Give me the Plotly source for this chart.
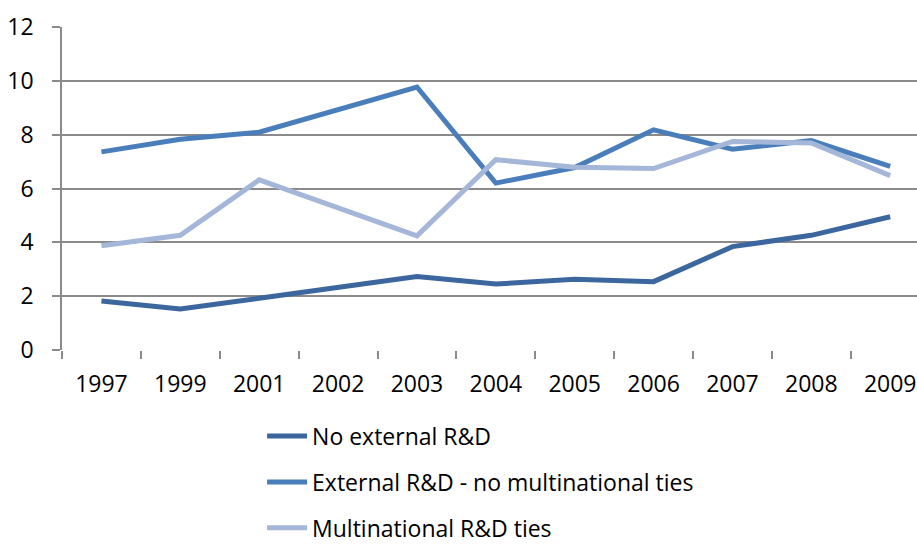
import plotly.graph_objects as go

# Survey years shown as evenly spaced categories
years = ["1997", "1999", "2001", "2002", "2003", "2004", "2005", "2006", "2007", "2008", "2009"]

no_external = [1.82, 1.52, 1.92, 2.32, 2.73, 2.45, 2.63, 2.54, 3.84, 4.26, 4.95]
external_no_mnc = [7.36, 7.83, 8.09, 8.93, 9.77, 6.20, 6.78, 8.18, 7.46, 7.78, 6.82]
multinational = [3.87, 4.26, 6.32, 5.28, 4.24, 7.07, 6.79, 6.74, 7.75, 7.69, 6.48]

series_names = ["No external R&D", "External R&D - no multinational ties", "Multinational R&D ties"]
series_colors = ["#3B679E", "#4A7EBB", "#A5B7D8"]
y_ticks = [0, 2, 4, 6, 8, 10, 12]

FONT = "Open Sans, Liberation Sans, sans-serif"
GRID = "#8A8A8A"
SIZE = 23

fig = go.Figure()
for i, (name, vals, col) in enumerate(zip(series_names, [no_external, external_no_mnc, multinational], series_colors)):
    fig.add_trace(go.Scatter(
        x=years, y=vals, name=name, mode="lines",
        line=dict(color=col, width=5, shape="linear"),
        legendgroup=f"g{i}",
    ))

fig.update_layout(
    width=917, height=548,
    margin=dict(l=62, r=0, t=27, b=198, autoexpand=False),
    paper_bgcolor="white", plot_bgcolor="white",
    font=dict(family=FONT, size=SIZE, color="#000000"),
    showlegend=True,
    legend=dict(
        orientation="v", x=0.234, xanchor="left", y=-0.2, yanchor="top",
        font=dict(family=FONT, size=SIZE, color="#000000"),
        tracegroupgap=13, bgcolor="rgba(0,0,0,0)", itemwidth=40,
    ),
    xaxis=dict(
        type="category", categoryorder="array", categoryarray=years,
        range=[-0.5, 10.34], automargin=False,
        showgrid=False, showline=False, zeroline=False,
        ticks="outside", tickson="boundaries", ticklen=8, tickwidth=1.5, tickcolor=GRID,
        ticklabelstandoff=18,
        tickfont=dict(family=FONT, size=SIZE, color="#000000"),
    ),
    yaxis=dict(
        range=[0, 12], tickvals=y_ticks, ticktext=[str(v) for v in y_ticks],
        automargin=False,
        showgrid=True, gridcolor=GRID, gridwidth=1.5,
        showline=True, linecolor=GRID, linewidth=1.5,
        zeroline=False,
        ticks="outside", ticklen=8, tickwidth=1.5, tickcolor=GRID,
        ticklabelstandoff=14,
        tickfont=dict(family=FONT, size=SIZE, color="#000000"),
    ),
)

fig.write_html("out.html")
